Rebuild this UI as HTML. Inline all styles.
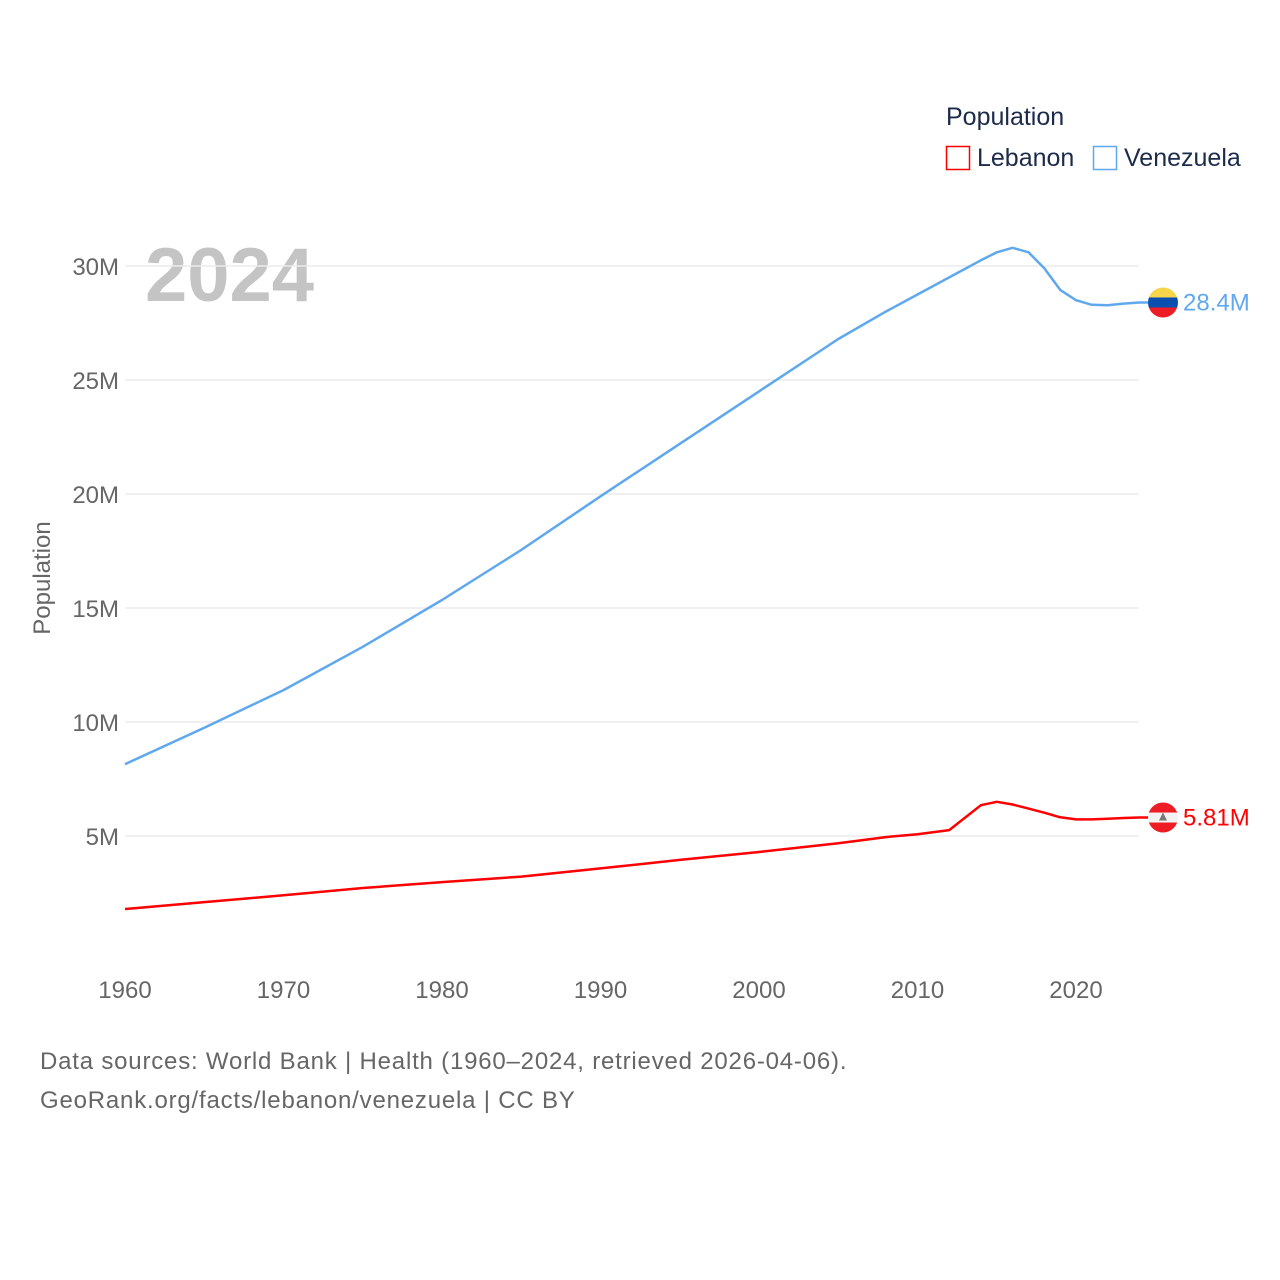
<!DOCTYPE html>
<html><head><meta charset="utf-8"><style>
body{margin:0;background:#fff;}
svg{display:block;font-family:"Liberation Sans",sans-serif;}
</style></head><body>
<svg id="c" width="1280" height="1280" viewBox="0 0 1280 1280">
<text x="946" y="125" font-size="25" fill="#1c2b4a">Population</text>
<g><rect x="946.5" y="146.5" width="23" height="23" fill="none" stroke="#ff0000" stroke-width="1.5"/><text x="977" y="166" font-size="25" fill="#1c2b4a">Lebanon</text></g>
<g><rect x="1093.5" y="146.5" width="23" height="23" fill="none" stroke="#5fa8ee" stroke-width="1.5"/><text x="1124" y="166" font-size="25" fill="#1c2b4a">Venezuela</text></g>
<text x="145" y="301" font-size="76" font-weight="bold" fill="#c4c4c4">2024</text>
<text transform="translate(50,578) rotate(-90)" text-anchor="middle" font-size="24" fill="#666">Population</text>
<g id="grid"></g><g id="lines"></g>
<text x="40" y="1069" font-size="24" letter-spacing="0.8" fill="#666">Data sources: World Bank | Health (1960–2024, retrieved 2026-04-06).</text>
<text x="40" y="1108" font-size="24" letter-spacing="0.8" fill="#666">GeoRank.org/facts/lebanon/venezuela | CC BY</text>
</svg>
<script>
const years=[1960,1965,1970,1975,1980,1985,1990,1995,2000,2005,2008,2010,2012,2014,2015,2016,2017,2018,2019,2020,2021,2022,2023,2024];
const venezuela=[8.15,9.75,11.4,13.3,15.35,17.55,19.9,22.2,24.5,26.8,28.0,28.75,29.5,30.25,30.6,30.8,30.6,29.9,28.95,28.5,28.3,28.28,28.35,28.4];
const lebanon=[1.8,2.1,2.4,2.72,2.98,3.22,3.58,3.95,4.3,4.68,4.95,5.08,5.26,6.35,6.5,6.38,6.2,6.02,5.82,5.73,5.73,5.76,5.79,5.81];
const yTicks=[5,10,15,20,25,30];
const xTicks=[1960,1970,1980,1990,2000,2010,2020];
const NS="http://www.w3.org/2000/svg";
const X=y=>125+(y-1960)*951/60;
const Y=v=>950-v*22.8;
function mk(t,a,p){const e=document.createElementNS(NS,t);for(const k in a)e.setAttribute(k,a[k]);p.appendChild(e);return e;}
const grid=document.getElementById('grid'),lines=document.getElementById('lines');
yTicks.forEach(v=>{
 const l=mk('line',{x1:125,x2:1139,y1:Y(v),y2:Y(v),stroke:'#ececec','stroke-width':1.5},grid);
 
 
 const t=mk('text',{x:119,y:Y(v)+9,'text-anchor':'end','font-size':24,fill:'#666'},grid);t.textContent=v+'M';
 
 
});
xTicks.forEach(v=>{
 const t=mk('text',{x:X(v),y:998,'text-anchor':'middle','font-size':24,fill:'#666'},grid);t.textContent=v;
 
 
});
function series(vals,col,name){
 const d=vals.map((v,i)=>(i?'L':'M')+X(years[i]).toFixed(1)+','+Y(v).toFixed(1)).join('')+'L1148,'+Y(vals[vals.length-1]).toFixed(1);
 const p=mk('path',{d:d,fill:'none',stroke:col,'stroke-width':2.5,'stroke-linejoin':'round'},lines);
 
 
}
series(venezuela,'#5fa8ee','venezuela');
series(lebanon,'#ff0000','lebanon');
function flag(v,cols,name,label,col){
 const cy=Y(v),cx=1163,r=15;
 const g=mk('g',{},lines);
 
 
 const id='clip'+name;const cp=mk('clipPath',{id:id},g);mk('circle',{cx:cx,cy:cy,r:r},cp);
 const h=2*r/cols.length;
 cols.forEach((c,i)=>mk('rect',{x:cx-r,y:cy-r+i*h,width:2*r,height:h+0.5,fill:c,'clip-path':'url(#'+id+')'},g));
 const t=mk('text',{x:1183,y:cy+8,'font-size':24,fill:col},lines);t.textContent=label;
 
 
 return {g,cx,cy};
}
flag(venezuela[venezuela.length-1],['#f7d54a','#0b4fb0','#ee1c25'],'venezuela','28.4M','#5fa8ee');
const lb=flag(lebanon[lebanon.length-1],['#ee1c25','#f2f2f2','#ee1c25'],'lebanon','5.81M','#ff0000');
mk('polygon',{points:(lb.cx)+','+(lb.cy-5)+' '+(lb.cx-4)+','+(lb.cy+3)+' '+(lb.cx+4)+','+(lb.cy+3),fill:'#777'},lb.g);
</script>
</body></html>
